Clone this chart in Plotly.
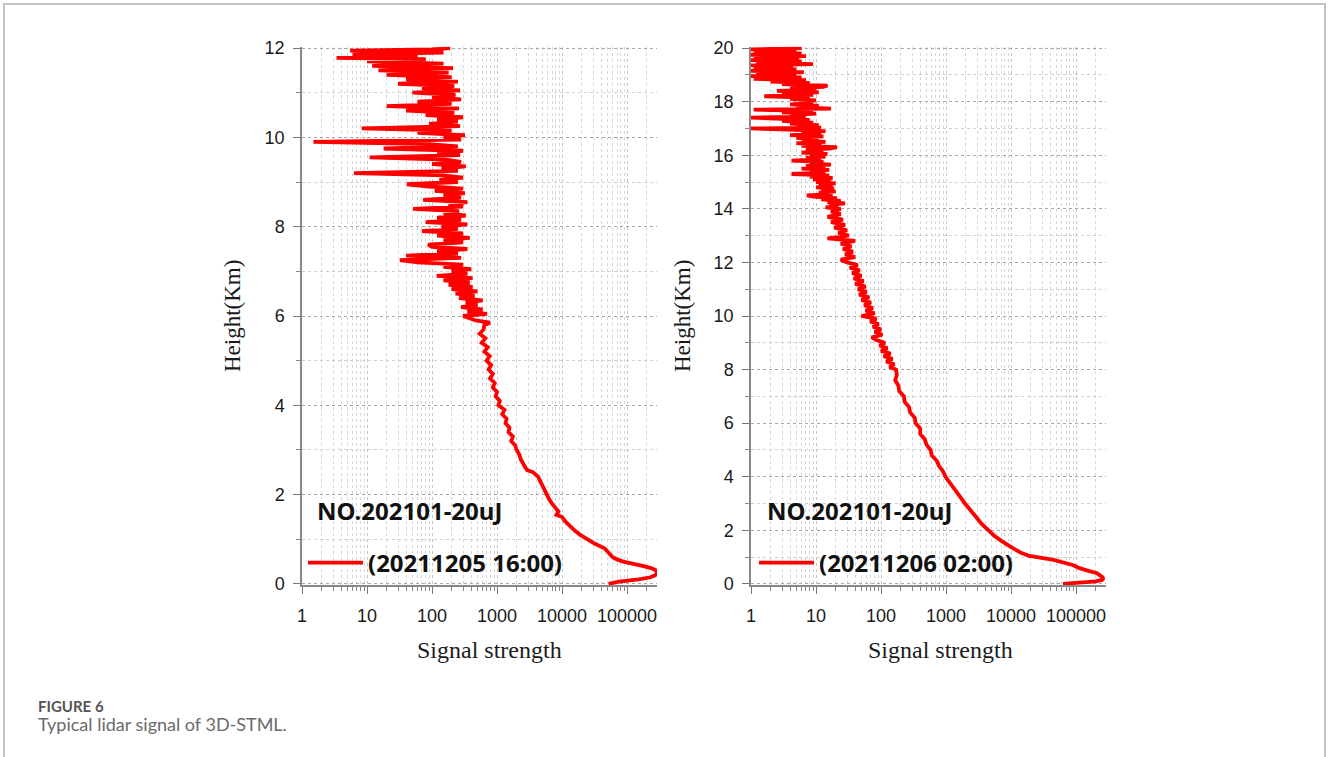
import plotly.graph_objects as go

# ---------------- data ----------------
left_height = [
    0.00, 0.05, 0.10, 0.15, 0.20, 0.25, 0.30, 0.35, 0.40, 0.45, 0.50, 0.55, 0.60, 0.70, 0.80, 0.90,
    1.00, 1.10, 1.20, 1.30, 1.40, 1.50, 1.55, 1.62, 1.70, 1.80, 1.90, 2.00, 2.10, 2.20, 2.30, 2.40,
    2.50, 2.55, 2.62, 2.70, 2.80, 2.90, 3.00, 3.10, 3.20, 3.30, 3.40, 3.50, 3.60, 3.70, 3.80, 3.90,
    4.00, 4.10, 4.20, 4.30, 4.40, 4.50, 4.60, 4.70, 4.80, 4.90, 5.00, 5.10, 5.20, 5.30, 5.40, 5.50,
    5.60, 5.70, 5.80, 5.85, 5.90,
    6.00, 6.05, 6.10, 6.15, 6.20, 6.25, 6.30, 6.35, 6.40, 6.45, 6.50, 6.55, 6.60, 6.65, 6.70, 6.75,
    6.80, 6.85, 6.90, 6.95, 7.00, 7.05, 7.10, 7.15, 7.20, 7.25, 7.30, 7.35, 7.40, 7.45, 7.50, 7.55,
    7.60, 7.65, 7.70, 7.75, 7.80, 7.85, 7.90, 7.95, 8.00, 8.05, 8.10, 8.15, 8.20, 8.25, 8.30, 8.35,
    8.40, 8.45, 8.50, 8.55, 8.60, 8.65, 8.70, 8.75, 8.80, 8.85, 8.90, 8.95, 9.00, 9.05, 9.10, 9.15,
    9.20, 9.25, 9.30, 9.35, 9.40, 9.45, 9.50, 9.55, 9.60, 9.65, 9.70, 9.75, 9.80, 9.85, 9.90, 9.95,
    10.00, 10.05, 10.10, 10.15, 10.20, 10.25, 10.30, 10.35, 10.40, 10.45, 10.50, 10.55, 10.60, 10.65,
    10.70, 10.75, 10.80, 10.85, 10.90, 10.95, 11.00, 11.05, 11.10, 11.15, 11.20, 11.25, 11.30, 11.35,
    11.40, 11.45, 11.50, 11.55, 11.60, 11.65, 11.70, 11.75, 11.78, 11.82, 11.86, 11.90, 11.94, 11.97,
    12.00,
]
left_signal = [
    52000, 75000, 150000, 230000, 275000, 288000, 280000, 240000, 180000, 120000, 87000, 70000, 60000, 52000, 45000, 32000,
    24000, 19000, 15500, 13000, 11200, 10000, 8200, 8800, 7800, 7000, 6300, 5900, 5400, 5000, 4600, 4300,
    3600, 2900, 2700, 2500, 2300, 2200, 2000, 1900, 1650, 1750, 1500, 1550, 1350, 1400, 1200, 1300,
    1050, 1100, 950, 1000, 860, 920, 780, 860, 740, 810, 690, 770, 640, 720, 580, 660,
    540, 620, 640, 780, 470,
    300, 700, 350, 600, 280, 500, 330, 600, 260, 450, 230, 500, 200, 420, 180, 380,
    150, 420, 118, 350, 200, 400, 150, 300, 60, 32, 280, 40, 250, 120, 350, 100,
    87, 300, 150, 380, 120, 300, 70, 250, 140, 350, 80, 280, 120, 330, 150, 260,
    51, 300, 180, 350, 73, 280, 150, 320, 110, 300, 90, 41, 250, 130, 300, 150,
    6.3, 250, 140, 330, 100, 280, 160, 11, 270, 120, 300, 18, 250, 90, 1.5, 280,
    150, 320, 60, 200, 8.3, 270, 90, 250, 120, 300, 80, 220, 40, 260,
    20, 200, 60, 280, 100, 230, 50, 270, 70, 220, 30, 250, 40, 200,
    20, 180, 15, 210, 12, 150, 10, 80, 3.4, 60, 6, 150, 5.5, 100,
    190,
]

right_height = [
    0.00, 0.05, 0.10, 0.15, 0.20, 0.25, 0.30, 0.40, 0.50, 0.60, 0.70, 0.80, 0.90, 1.00, 1.05, 1.15,
    1.25, 1.40, 1.60, 1.80, 2.00, 2.25, 2.50, 2.75, 3.00, 3.25, 3.50, 3.75, 4.00, 4.20, 4.40, 4.60,
    4.80, 5.00, 5.20, 5.40, 5.60, 5.80, 6.00, 6.20, 6.40, 6.60, 6.80, 7.00, 7.20, 7.40, 7.60, 7.80,
    8.0, 8.1, 8.2, 8.3, 8.4, 8.5, 8.6, 8.7, 8.8, 8.9, 9.0, 9.1, 9.2, 9.3, 9.4, 9.5,
    9.6, 9.7, 9.8, 9.9, 10.0, 10.1, 10.2, 10.3, 10.4, 10.5, 10.6, 10.7, 10.8, 10.9, 11.0, 11.1,
    11.2, 11.3, 11.4, 11.5, 11.6, 11.7, 11.8, 11.9, 12.0, 12.1, 12.2, 12.3, 12.4, 12.5, 12.6, 12.7,
    12.8, 12.9, 13.0, 13.1, 13.2, 13.3, 13.4, 13.5, 13.6, 13.7, 13.8, 13.9,
    14.0, 14.05, 14.1, 14.15, 14.2, 14.25, 14.3, 14.35, 14.4, 14.45, 14.5, 14.55, 14.6, 14.65, 14.7, 14.75,
    14.8, 14.85, 14.9, 14.95, 15.0, 15.05, 15.1, 15.15, 15.2, 15.25, 15.3, 15.35, 15.4, 15.45, 15.5, 15.55,
    15.6, 15.65, 15.7, 15.75, 15.8, 15.85, 15.9, 15.95, 16.0, 16.05, 16.1, 16.15, 16.2, 16.25, 16.3, 16.35,
    16.4, 16.45, 16.5, 16.55, 16.6, 16.65, 16.7, 16.75, 16.8, 16.85, 16.9, 16.95,
    17.0, 17.03, 17.08, 17.12, 17.18, 17.22, 17.28, 17.32, 17.4, 17.44, 17.5, 17.55, 17.6, 17.65, 17.7, 17.74,
    17.8, 17.85, 17.9, 17.95, 18.0, 18.05, 18.1, 18.15, 18.2, 18.25, 18.3, 18.35, 18.4, 18.45, 18.5, 18.55,
    18.6, 18.65, 18.7, 18.75,
    18.8, 18.85, 18.9, 18.95, 19.0, 19.05, 19.1, 19.15, 19.2, 19.25, 19.3, 19.35, 19.4, 19.45, 19.5, 19.55,
    19.6, 19.65, 19.7, 19.75, 19.8, 19.85, 19.9, 19.95, 20.0,
]
right_signal = [
    63000, 120000, 200000, 250000, 260000, 255000, 240000, 210000, 150000, 110000, 91000, 65000, 45000, 25000, 19000, 14500,
    12000, 9600, 7200, 5500, 4500, 3500, 2900, 2350, 1950, 1650, 1400, 1150, 980, 900, 780, 720,
    600, 580, 500, 470, 400, 400, 340, 330, 280, 270, 230, 225, 190, 185, 165, 175,
    170, 135, 160, 120, 150, 110, 140, 100, 125, 95, 115, 85, 72, 105, 80, 100,
    75, 92, 68, 85, 50, 80, 58, 75, 55, 70, 50, 66, 46, 60, 44, 58,
    40, 54, 38, 50, 36, 47, 33, 44, 30, 24, 40, 28, 37, 26, 35, 24,
    40, 15, 32, 22, 30, 19, 28, 17, 26, 15, 24, 17,
    24, 14, 22, 16, 28, 15, 24, 12, 21, 10, 7.2, 18, 11, 20, 12, 19,
    10, 18, 11, 20, 10, 17, 9, 18, 8, 16, 4.2, 14, 8, 16, 6, 14,
    7, 17, 8, 13, 4.2, 12, 7, 14, 8, 15, 6, 13, 7, 16, 21, 6,
    12, 5, 14, 6, 11, 5, 13, 4, 12, 6, 14, 5,
    1.0, 12, 5, 11, 4, 9, 3, 8, 1.0, 7, 4, 10, 3, 9, 1.1, 17,
    5, 11, 4, 9, 6, 10, 4, 8, 1.6, 9, 3, 11, 2.5, 10, 4, 13,
    15, 3, 8, 2,
    7, 1.1, 6, 1.0, 5, 1.2, 6.5, 1.0, 5, 1.1, 4.5, 1.0, 9, 1.2, 6, 1.0,
    5.5, 1.1, 7, 1.0, 6, 1.1, 5, 1.0, 6,
]

x_tick_vals = [1, 10, 100, 1000, 10000, 100000]
x_tick_text = ["1", "10", "100", "1000", "10000", "100000"]
left_y_ticks = [0, 2, 4, 6, 8, 10, 12]
right_y_ticks = [0, 2, 4, 6, 8, 10, 12, 14, 16, 18, 20]

left_series_name = "(20211205 16:00)"
right_series_name = "(20211206 02:00)"
instrument_label = "NO.202101-20uJ"
x_title = "Signal strength"
y_title = "Height(Km)"
caption_label = "FIGURE 6"
caption_text = "Typical lidar signal of 3D-STML."

# ---------------- figure ----------------
W, H = 1328, 757
RED = "#ff0000"
BOLD_FONT = "Noto Sans, Open Sans, sans-serif"
TICK_FONT = dict(family="Liberation Sans, Arial, sans-serif", size=18, color="#1a1a1a")
TITLE_FONT = dict(family="Liberation Serif, Times New Roman, serif", size=24, color="#1a1a1a")


def px_x(p):
    return p / W


def px_y(p):
    return 1 - p / H


fig = go.Figure()
fig.add_trace(go.Scatter(
    x=left_signal, y=left_height, mode="lines", name=left_series_name,
    line=dict(color=RED, width=3.8), xaxis="x", yaxis="y", legend="legend",
))
fig.add_trace(go.Scatter(
    x=right_signal, y=right_height, mode="lines", name=right_series_name,
    line=dict(color=RED, width=3.8), xaxis="x2", yaxis="y2", legend="legend2",
))

common_x = dict(
    type="log", range=[0, 5.46], tickmode="array", tickvals=x_tick_vals, ticktext=x_tick_text,
    ticks="outside", ticklen=7, tickwidth=1.2, tickcolor="#777",
    showline=True, linecolor="#888", linewidth=1.5,
    showgrid=True, gridcolor="#c4c4c4", griddash="dot", gridwidth=1,
    minor=dict(dtick="D1", ticks="outside", ticklen=4, tickcolor="#888", tickwidth=1,
               showgrid=True, gridcolor="#d6d6d6", griddash="dot", gridwidth=1),
    tickfont=TICK_FONT, ticklabelstandoff=6, zeroline=False, fixedrange=True,
)
common_y = dict(
    tickmode="array",
    ticks="outside", ticklen=7, tickwidth=1.2, tickcolor="#777",
    showline=True, linecolor="#888", linewidth=1.5,
    showgrid=True, gridcolor="#a8a8a8", griddash="dot", gridwidth=1.2,
    minor=dict(dtick=1, ticks="outside", ticklen=4, tickcolor="#888", tickwidth=1,
               showgrid=True, gridcolor="#cfcfcf", griddash="dot", gridwidth=1),
    tickfont=TICK_FONT, ticklabelstandoff=5, zeroline=False, fixedrange=True,
)

LEG_FONT = dict(family=BOLD_FONT, size=24, color="#111", weight="bold")
ydom = [px_y(585.3), px_y(46.7)]
fig.update_layout(
    width=W, height=H, autosize=False,
    margin=dict(l=0, r=0, t=0, b=0, autoexpand=False),
    paper_bgcolor="white", plot_bgcolor="white",
    xaxis=dict(domain=[px_x(302), px_x(657)], anchor="y", **common_x),
    yaxis=dict(domain=ydom, anchor="x", range=[-0.03, 12.03], tickvals=left_y_ticks, **common_y),
    xaxis2=dict(domain=[px_x(751), px_x(1106)], anchor="y2", **common_x),
    yaxis2=dict(domain=ydom, anchor="x2", range=[-0.05, 20.05], tickvals=right_y_ticks, **common_y),
    legend=dict(x=px_x(303), y=px_y(563), xanchor="left", yanchor="middle",
                bgcolor="rgba(0,0,0,0)", itemwidth=55, font=LEG_FONT),
    legend2=dict(x=px_x(754), y=px_y(563), xanchor="left", yanchor="middle",
                 bgcolor="rgba(0,0,0,0)", itemwidth=55, font=LEG_FONT),
    showlegend=True,
)

annotations = [
    dict(text=instrument_label, x=px_x(409), y=px_y(510)),
    dict(text=instrument_label, x=px_x(860), y=px_y(510)),
]
for a in annotations:
    a.update(xref="paper", yref="paper", xanchor="center", yanchor="middle", showarrow=False,
             font=LEG_FONT)

for cx in (489, 940):
    annotations.append(dict(text=x_title, x=px_x(cx), y=px_y(650), xref="paper", yref="paper",
                            xanchor="center", yanchor="middle", showarrow=False, font=TITLE_FONT))
for cx in (233, 683):
    annotations.append(dict(text=y_title, x=px_x(cx), y=px_y(316), xref="paper", yref="paper",
                            xanchor="center", yanchor="middle", showarrow=False, textangle=-90,
                            font=dict(family="Liberation Serif, Times New Roman, serif", size=23, color="#1a1a1a")))

annotations.append(dict(text=caption_label, x=px_x(36), y=px_y(706), xref="paper", yref="paper",
                        xanchor="left", yanchor="middle", showarrow=False,
                        font=dict(family="Lato, sans-serif", size=15, color="#555", weight="bold")))
annotations.append(dict(text=caption_text, x=px_x(36), y=px_y(724), xref="paper", yref="paper",
                        xanchor="left", yanchor="middle", showarrow=False,
                        font=dict(family="Lato, sans-serif", size=18, color="#6a6a6a")))
fig.update_layout(annotations=annotations)

fig.add_shape(type="rect", xref="paper", yref="paper",
              x0=px_x(4), x1=px_x(1325), y0=-0.05, y1=px_y(4),
              line=dict(color="#c2c2c2", width=2), fillcolor="rgba(0,0,0,0)", layer="below")

fig.write_html("out.html", config={"displayModeBar": False},
               post_script="document.body.style.margin='0';document.body.style.overflow='hidden';")
